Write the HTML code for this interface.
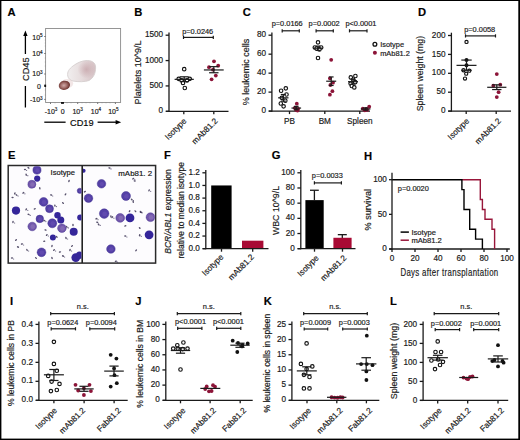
<!DOCTYPE html>
<html><head><meta charset="utf-8"><style>
html,body{margin:0;padding:0;background:#fff;}
body{width:520px;height:440px;overflow:hidden;}
svg{display:block;}
text{font-family:"Liberation Sans",sans-serif;stroke:#1a1a1a;stroke-width:0.18px;}
</style></head><body>
<svg width="520" height="440" viewBox="0 0 520 440">
<rect x="0" y="0" width="520" height="440" fill="#fff"/>
<text x="7.6" y="16.06" font-size="11.2" text-anchor="start" fill="#000" font-weight="bold" >A</text>
<rect x="45.6" y="28.5" width="75" height="74" fill="none" stroke="#8a8a8a" stroke-width="0.9"/>
<line x1="44.2" y1="36.5" x2="45.6" y2="36.5" stroke="#555" stroke-width="0.8" />
<line x1="44.2" y1="53.5" x2="45.6" y2="53.5" stroke="#555" stroke-width="0.8" />
<line x1="44.2" y1="74" x2="45.6" y2="74" stroke="#555" stroke-width="0.8" />
<line x1="44.2" y1="85.6" x2="45.6" y2="85.6" stroke="#555" stroke-width="0.8" />
<line x1="44.2" y1="99.4" x2="45.6" y2="99.4" stroke="#555" stroke-width="0.8" />
<line x1="50.5" y1="102.5" x2="50.5" y2="104" stroke="#555" stroke-width="0.8" />
<line x1="62.2" y1="102.5" x2="62.2" y2="104" stroke="#555" stroke-width="0.8" />
<line x1="77.7" y1="102.5" x2="77.7" y2="104" stroke="#555" stroke-width="0.8" />
<line x1="97.7" y1="102.5" x2="97.7" y2="104" stroke="#555" stroke-width="0.8" />
<line x1="115.4" y1="102.5" x2="115.4" y2="104" stroke="#555" stroke-width="0.8" />
<line x1="44.8" y1="40" x2="45.6" y2="40" stroke="#888" stroke-width="0.6" />
<line x1="44.8" y1="43" x2="45.6" y2="43" stroke="#888" stroke-width="0.6" />
<line x1="44.8" y1="46" x2="45.6" y2="46" stroke="#888" stroke-width="0.6" />
<line x1="44.8" y1="58" x2="45.6" y2="58" stroke="#888" stroke-width="0.6" />
<line x1="44.8" y1="62" x2="45.6" y2="62" stroke="#888" stroke-width="0.6" />
<line x1="44.8" y1="66" x2="45.6" y2="66" stroke="#888" stroke-width="0.6" />
<line x1="44.8" y1="90" x2="45.6" y2="90" stroke="#888" stroke-width="0.6" />
<line x1="44.8" y1="95" x2="45.6" y2="95" stroke="#888" stroke-width="0.6" />
<line x1="55" y1="102.5" x2="55" y2="103.3" stroke="#888" stroke-width="0.6" />
<line x1="67" y1="102.5" x2="67" y2="103.3" stroke="#888" stroke-width="0.6" />
<line x1="71" y1="102.5" x2="71" y2="103.3" stroke="#888" stroke-width="0.6" />
<line x1="82" y1="102.5" x2="82" y2="103.3" stroke="#888" stroke-width="0.6" />
<line x1="86" y1="102.5" x2="86" y2="103.3" stroke="#888" stroke-width="0.6" />
<line x1="90" y1="102.5" x2="90" y2="103.3" stroke="#888" stroke-width="0.6" />
<line x1="102" y1="102.5" x2="102" y2="103.3" stroke="#888" stroke-width="0.6" />
<line x1="106" y1="102.5" x2="106" y2="103.3" stroke="#888" stroke-width="0.6" />
<line x1="110" y1="102.5" x2="110" y2="103.3" stroke="#888" stroke-width="0.6" />
<rect x="44.3" y="84.6" width="1.8" height="2.4" fill="#111"/>
<rect x="61" y="102" width="3" height="1.8" fill="#111"/>
<text x="42.6" y="39.92" font-size="7.0" text-anchor="end" fill="#222" >10<tspan font-size="4.6" dy="-2.6">5</tspan></text>
<text x="42.6" y="56.22" font-size="7.0" text-anchor="end" fill="#222" >10<tspan font-size="4.6" dy="-2.6">4</tspan></text>
<text x="42.6" y="76.22" font-size="7.0" text-anchor="end" fill="#222" >10<tspan font-size="4.6" dy="-2.6">3</tspan></text>
<text x="41" y="88.62" font-size="7.0" text-anchor="end" fill="#222" >0</text>
<text x="42.6" y="102.42" font-size="7.0" text-anchor="end" fill="#222" >-10<tspan font-size="4.6" dy="-2.6">3</tspan></text>
<text x="51" y="113.82" font-size="7.0" text-anchor="middle" fill="#222" >-10<tspan font-size="4.6" dy="-2.6">3</tspan></text>
<text x="62.6" y="113.82" font-size="7.0" text-anchor="middle" fill="#222" >0</text>
<text x="77.6" y="113.82" font-size="7.0" text-anchor="middle" fill="#222" >10<tspan font-size="4.6" dy="-2.6">3</tspan></text>
<text x="96" y="113.82" font-size="7.0" text-anchor="middle" fill="#222" >10<tspan font-size="4.6" dy="-2.6">4</tspan></text>
<text x="113.4" y="113.82" font-size="7.0" text-anchor="middle" fill="#222" >10<tspan font-size="4.6" dy="-2.6">5</tspan></text>
<defs><linearGradient id="bg" x1="0" y1="0" x2="1" y2="0"><stop offset="0" stop-color="#f1eeee"/><stop offset="0.5" stop-color="#e6dcdd"/><stop offset="1" stop-color="#d6c2c5"/></linearGradient><radialGradient id="pg" cx="0.5" cy="0.5" r="0.5"><stop offset="0" stop-color="#c9a9ae" stop-opacity="0.85"/><stop offset="1" stop-color="#c9a9ae" stop-opacity="0"/></radialGradient><radialGradient id="rg" cx="0.45" cy="0.5" r="0.55"><stop offset="0" stop-color="#d0aaa8"/><stop offset="0.45" stop-color="#a87470"/><stop offset="0.8" stop-color="#7c4440"/><stop offset="1" stop-color="#6a3430"/></radialGradient></defs>
<path d="M67.8 76 C67 72 69 69 73 66 C77 63 81 61 86 60.6 C91 60.3 95.4 62 95.6 67 C95.8 73 93.5 78 89 80.5 C85 82 78 82 73 81 C70 80.3 68.3 78.5 67.8 76 Z" fill="url(#bg)" stroke="#d6cfcf" stroke-width="0.9"/>
<ellipse cx="86.5" cy="69.5" rx="9" ry="9" fill="url(#pg)"/>
<ellipse cx="67.2" cy="83.6" rx="6.0" ry="4.6" fill="#ead6d6" opacity="0.6"/>
<ellipse cx="64.4" cy="85.3" rx="5.7" ry="4.6" fill="url(#rg)" transform="rotate(-12 64.4 85.3)"/>
<text transform="translate(28.91,69.2) rotate(-90)" font-size="9.2" text-anchor="middle" fill="#1a1a1a" >CD45</text>
<line x1="25.4" y1="54" x2="25.4" y2="34.5" stroke="#000" stroke-width="1.3" />
<path d="M25.4 30.6 L23.2 36 L27.6 36 Z" fill="#000"/>
<line x1="25.4" y1="86" x2="25.4" y2="107.5" stroke="#000" stroke-width="1.3" />
<text x="81.8" y="125.51" font-size="9.2" text-anchor="middle" fill="#000" >CD19</text>
<line x1="44.3" y1="122.2" x2="65.6" y2="122.2" stroke="#000" stroke-width="1.3" />
<line x1="97.6" y1="122.2" x2="117" y2="122.2" stroke="#000" stroke-width="1.3" />
<path d="M121.2 122.2 L115.6 120 L115.6 124.4 Z" fill="#000"/>
<text x="134.3" y="16.16" font-size="11.2" text-anchor="start" fill="#000" font-weight="bold" >B</text>
<line x1="169" y1="32.4" x2="169" y2="111.9" stroke="#1a1a1a" stroke-width="1.3" />
<line x1="165.6" y1="35.2" x2="169" y2="35.2" stroke="#1a1a1a" stroke-width="1.3" />
<text x="163.1" y="37.35" font-size="8.2" text-anchor="end" fill="#1a1a1a" >1500</text>
<line x1="165.6" y1="60.57" x2="169" y2="60.57" stroke="#1a1a1a" stroke-width="1.3" />
<text x="163.1" y="62.72" font-size="8.2" text-anchor="end" fill="#1a1a1a" >1000</text>
<line x1="165.6" y1="85.93" x2="169" y2="85.93" stroke="#1a1a1a" stroke-width="1.3" />
<text x="163.1" y="88.09" font-size="8.2" text-anchor="end" fill="#1a1a1a" >500</text>
<line x1="165.6" y1="111.3" x2="169" y2="111.3" stroke="#1a1a1a" stroke-width="1.3" />
<text x="163.1" y="113.45" font-size="8.2" text-anchor="end" fill="#1a1a1a" >0</text>
<line x1="166" y1="111.3" x2="228.5" y2="111.3" stroke="#1a1a1a" stroke-width="1.3" />
<line x1="183.8" y1="111.3" x2="183.8" y2="114.3" stroke="#1a1a1a" stroke-width="1.3" />
<line x1="213.8" y1="111.3" x2="213.8" y2="114.3" stroke="#1a1a1a" stroke-width="1.3" />
<text transform="translate(141.14,72.5) rotate(-90)" font-size="9.0" text-anchor="middle" fill="#1a1a1a" >Platelets 10^9/L</text>
<text x="182.2" y="34.06" font-size="7.4" text-anchor="start" fill="#1a1a1a" >p=0.0246</text>
<line x1="183.5" y1="37.4" x2="213.3" y2="37.4" stroke="#1a1a1a" stroke-width="1.2" />
<line x1="183.5" y1="35.8" x2="183.5" y2="39" stroke="#1a1a1a" stroke-width="1.2" />
<line x1="213.3" y1="35.8" x2="213.3" y2="39" stroke="#1a1a1a" stroke-width="1.2" />
<circle cx="184.2" cy="69.19" r="1.75" fill="#fff" stroke="#111" stroke-width="1.15"/>
<circle cx="178.7" cy="78.83" r="1.75" fill="#fff" stroke="#111" stroke-width="1.15"/>
<circle cx="189.7" cy="78.83" r="1.75" fill="#fff" stroke="#111" stroke-width="1.15"/>
<circle cx="181.7" cy="80.35" r="1.75" fill="#fff" stroke="#111" stroke-width="1.15"/>
<circle cx="187" cy="80.35" r="1.75" fill="#fff" stroke="#111" stroke-width="1.15"/>
<circle cx="183" cy="82.89" r="1.75" fill="#fff" stroke="#111" stroke-width="1.15"/>
<circle cx="184.8" cy="87.96" r="1.75" fill="#fff" stroke="#111" stroke-width="1.15"/>
<line x1="174.6" y1="79.34" x2="193.8" y2="79.34" stroke="#1a1a1a" stroke-width="1.2" />
<line x1="184.2" y1="76.8" x2="184.2" y2="79.34" stroke="#1a1a1a" stroke-width="1.2" />
<line x1="179.7" y1="76.8" x2="188.7" y2="76.8" stroke="#1a1a1a" stroke-width="1.2" />
<line x1="184.2" y1="79.34" x2="184.2" y2="81.62" stroke="#1a1a1a" stroke-width="1.2" />
<line x1="179.7" y1="81.62" x2="188.7" y2="81.62" stroke="#1a1a1a" stroke-width="1.2" />
<circle cx="214" cy="61.33" r="1.9" fill="#8c1438"/>
<circle cx="218.2" cy="65.64" r="1.9" fill="#8c1438"/>
<circle cx="209" cy="67.16" r="1.9" fill="#8c1438"/>
<circle cx="215.8" cy="75.53" r="1.9" fill="#8c1438"/>
<circle cx="211.6" cy="79.34" r="1.9" fill="#8c1438"/>
<circle cx="213" cy="69.7" r="1.9" fill="#8c1438"/>
<line x1="203.9" y1="69.95" x2="223.7" y2="69.95" stroke="#1a1a1a" stroke-width="1.2" />
<line x1="213.8" y1="66.65" x2="213.8" y2="69.95" stroke="#1a1a1a" stroke-width="1.2" />
<line x1="209.1" y1="66.65" x2="218.5" y2="66.65" stroke="#1a1a1a" stroke-width="1.2" />
<line x1="213.8" y1="69.95" x2="213.8" y2="72.74" stroke="#1a1a1a" stroke-width="1.2" />
<line x1="209.1" y1="72.74" x2="218.5" y2="72.74" stroke="#1a1a1a" stroke-width="1.2" />
<text transform="translate(187,121.5) rotate(-45)" font-size="8.2" text-anchor="end" fill="#1a1a1a">Isotype</text>
<text transform="translate(218.3,121.5) rotate(-45)" font-size="8.2" text-anchor="end" fill="#1a1a1a">mAb81.2</text>
<text x="242.8" y="16.16" font-size="11.2" text-anchor="start" fill="#000" font-weight="bold" >C</text>
<line x1="271.9" y1="32.4" x2="271.9" y2="111.7" stroke="#1a1a1a" stroke-width="1.3" />
<line x1="268.5" y1="35.2" x2="271.9" y2="35.2" stroke="#1a1a1a" stroke-width="1.3" />
<text x="266" y="37.35" font-size="8.2" text-anchor="end" fill="#1a1a1a" >80</text>
<line x1="268.5" y1="54.17" x2="271.9" y2="54.17" stroke="#1a1a1a" stroke-width="1.3" />
<text x="266" y="56.33" font-size="8.2" text-anchor="end" fill="#1a1a1a" >60</text>
<line x1="268.5" y1="73.15" x2="271.9" y2="73.15" stroke="#1a1a1a" stroke-width="1.3" />
<text x="266" y="75.3" font-size="8.2" text-anchor="end" fill="#1a1a1a" >40</text>
<line x1="268.5" y1="92.12" x2="271.9" y2="92.12" stroke="#1a1a1a" stroke-width="1.3" />
<text x="266" y="94.28" font-size="8.2" text-anchor="end" fill="#1a1a1a" >20</text>
<line x1="268.5" y1="111.1" x2="271.9" y2="111.1" stroke="#1a1a1a" stroke-width="1.3" />
<text x="266" y="113.25" font-size="8.2" text-anchor="end" fill="#1a1a1a" >0</text>
<line x1="268.9" y1="111.1" x2="370" y2="111.1" stroke="#1a1a1a" stroke-width="1.3" />
<line x1="289.5" y1="111.1" x2="289.5" y2="114.1" stroke="#1a1a1a" stroke-width="1.3" />
<line x1="324.8" y1="111.1" x2="324.8" y2="114.1" stroke="#1a1a1a" stroke-width="1.3" />
<line x1="359.8" y1="111.1" x2="359.8" y2="114.1" stroke="#1a1a1a" stroke-width="1.3" />
<text transform="translate(248.84,72) rotate(-90)" font-size="9.0" text-anchor="middle" fill="#1a1a1a" >% leukemic cells</text>
<text x="289.5" y="123.65" font-size="8.2" text-anchor="middle" fill="#1a1a1a" >PB</text>
<text x="324.8" y="123.65" font-size="8.2" text-anchor="middle" fill="#1a1a1a" >BM</text>
<text x="359.8" y="123.65" font-size="8.2" text-anchor="middle" fill="#1a1a1a" >Spleen</text>
<text x="271.7" y="26.36" font-size="7.4" text-anchor="start" fill="#1a1a1a" >p=0.0166</text>
<line x1="282.2" y1="30.8" x2="299.3" y2="30.8" stroke="#1a1a1a" stroke-width="1.2" />
<line x1="282.2" y1="29.2" x2="282.2" y2="32.4" stroke="#1a1a1a" stroke-width="1.2" />
<line x1="299.3" y1="29.2" x2="299.3" y2="32.4" stroke="#1a1a1a" stroke-width="1.2" />
<text x="308.6" y="26.36" font-size="7.4" text-anchor="start" fill="#1a1a1a" >p=0.0002</text>
<line x1="316.1" y1="30.8" x2="333.3" y2="30.8" stroke="#1a1a1a" stroke-width="1.2" />
<line x1="316.1" y1="29.2" x2="316.1" y2="32.4" stroke="#1a1a1a" stroke-width="1.2" />
<line x1="333.3" y1="29.2" x2="333.3" y2="32.4" stroke="#1a1a1a" stroke-width="1.2" />
<text x="345.4" y="26.36" font-size="7.4" text-anchor="start" fill="#1a1a1a" >p&lt;0.0001</text>
<line x1="349.5" y1="30.8" x2="367" y2="30.8" stroke="#1a1a1a" stroke-width="1.2" />
<line x1="349.5" y1="29.2" x2="349.5" y2="32.4" stroke="#1a1a1a" stroke-width="1.2" />
<line x1="367" y1="29.2" x2="367" y2="32.4" stroke="#1a1a1a" stroke-width="1.2" />
<circle cx="285.8" cy="88.33" r="1.75" fill="#fff" stroke="#111" stroke-width="1.15"/>
<circle cx="281.1" cy="90.7" r="1.75" fill="#fff" stroke="#111" stroke-width="1.15"/>
<circle cx="286.5" cy="94.5" r="1.75" fill="#fff" stroke="#111" stroke-width="1.15"/>
<circle cx="281.8" cy="97.82" r="1.75" fill="#fff" stroke="#111" stroke-width="1.15"/>
<circle cx="285.3" cy="100.66" r="1.75" fill="#fff" stroke="#111" stroke-width="1.15"/>
<circle cx="280.8" cy="103.51" r="1.75" fill="#fff" stroke="#111" stroke-width="1.15"/>
<circle cx="283.6" cy="106.36" r="1.75" fill="#fff" stroke="#111" stroke-width="1.15"/>
<line x1="278.1" y1="97.82" x2="288.5" y2="97.82" stroke="#1a1a1a" stroke-width="1.2" />
<line x1="283.3" y1="94.5" x2="283.3" y2="97.82" stroke="#1a1a1a" stroke-width="1.2" />
<line x1="280.8" y1="94.5" x2="285.8" y2="94.5" stroke="#1a1a1a" stroke-width="1.2" />
<line x1="283.3" y1="97.82" x2="283.3" y2="101.14" stroke="#1a1a1a" stroke-width="1.2" />
<line x1="280.8" y1="101.14" x2="285.8" y2="101.14" stroke="#1a1a1a" stroke-width="1.2" />
<circle cx="296.8" cy="103.7" r="1.9" fill="#8c1438"/>
<circle cx="294.8" cy="107.97" r="1.9" fill="#8c1438"/>
<circle cx="298.1" cy="109.01" r="1.9" fill="#8c1438"/>
<circle cx="296.1" cy="109.96" r="1.9" fill="#8c1438"/>
<circle cx="297.5" cy="110.53" r="1.9" fill="#8c1438"/>
<line x1="291.5" y1="108.06" x2="301.1" y2="108.06" stroke="#1a1a1a" stroke-width="1.2" />
<line x1="296.3" y1="106.36" x2="296.3" y2="108.06" stroke="#1a1a1a" stroke-width="1.2" />
<line x1="294" y1="106.36" x2="298.6" y2="106.36" stroke="#1a1a1a" stroke-width="1.2" />
<line x1="296.3" y1="108.06" x2="296.3" y2="109.77" stroke="#1a1a1a" stroke-width="1.2" />
<line x1="294" y1="109.77" x2="298.6" y2="109.77" stroke="#1a1a1a" stroke-width="1.2" />
<circle cx="318" cy="42.32" r="1.75" fill="#fff" stroke="#111" stroke-width="1.15"/>
<circle cx="314.8" cy="47.53" r="1.75" fill="#fff" stroke="#111" stroke-width="1.15"/>
<circle cx="321.2" cy="47.53" r="1.75" fill="#fff" stroke="#111" stroke-width="1.15"/>
<circle cx="316.6" cy="48.48" r="1.75" fill="#fff" stroke="#111" stroke-width="1.15"/>
<circle cx="319.4" cy="49.43" r="1.75" fill="#fff" stroke="#111" stroke-width="1.15"/>
<circle cx="318" cy="57.97" r="1.75" fill="#fff" stroke="#111" stroke-width="1.15"/>
<line x1="313" y1="48.2" x2="323" y2="48.2" stroke="#1a1a1a" stroke-width="1.2" />
<line x1="318" y1="46.11" x2="318" y2="48.2" stroke="#1a1a1a" stroke-width="1.2" />
<line x1="315.6" y1="46.11" x2="320.4" y2="46.11" stroke="#1a1a1a" stroke-width="1.2" />
<line x1="318" y1="48.2" x2="318" y2="50.38" stroke="#1a1a1a" stroke-width="1.2" />
<line x1="315.6" y1="50.38" x2="320.4" y2="50.38" stroke="#1a1a1a" stroke-width="1.2" />
<circle cx="331.2" cy="59.87" r="1.9" fill="#8c1438"/>
<circle cx="329.9" cy="78.37" r="1.9" fill="#8c1438"/>
<circle cx="333" cy="82.64" r="1.9" fill="#8c1438"/>
<circle cx="330.4" cy="85.01" r="1.9" fill="#8c1438"/>
<circle cx="332.4" cy="91.18" r="1.9" fill="#8c1438"/>
<circle cx="329.9" cy="94.69" r="1.9" fill="#8c1438"/>
<line x1="326.2" y1="81.21" x2="336.2" y2="81.21" stroke="#1a1a1a" stroke-width="1.2" />
<line x1="331.2" y1="76.94" x2="331.2" y2="81.21" stroke="#1a1a1a" stroke-width="1.2" />
<line x1="328.8" y1="76.94" x2="333.6" y2="76.94" stroke="#1a1a1a" stroke-width="1.2" />
<line x1="331.2" y1="81.21" x2="331.2" y2="85.48" stroke="#1a1a1a" stroke-width="1.2" />
<line x1="328.8" y1="85.48" x2="333.6" y2="85.48" stroke="#1a1a1a" stroke-width="1.2" />
<circle cx="350.8" cy="77.42" r="1.75" fill="#fff" stroke="#111" stroke-width="1.15"/>
<circle cx="355.4" cy="76" r="1.75" fill="#fff" stroke="#111" stroke-width="1.15"/>
<circle cx="353.2" cy="79.79" r="1.75" fill="#fff" stroke="#111" stroke-width="1.15"/>
<circle cx="350.6" cy="83.59" r="1.75" fill="#fff" stroke="#111" stroke-width="1.15"/>
<circle cx="355.2" cy="82.16" r="1.75" fill="#fff" stroke="#111" stroke-width="1.15"/>
<circle cx="351.8" cy="85.96" r="1.75" fill="#fff" stroke="#111" stroke-width="1.15"/>
<circle cx="354.3" cy="87.38" r="1.75" fill="#fff" stroke="#111" stroke-width="1.15"/>
<line x1="348" y1="81.69" x2="358" y2="81.69" stroke="#1a1a1a" stroke-width="1.2" />
<line x1="353" y1="79.32" x2="353" y2="81.69" stroke="#1a1a1a" stroke-width="1.2" />
<line x1="350.6" y1="79.32" x2="355.4" y2="79.32" stroke="#1a1a1a" stroke-width="1.2" />
<line x1="353" y1="81.69" x2="353" y2="84.06" stroke="#1a1a1a" stroke-width="1.2" />
<line x1="350.6" y1="84.06" x2="355.4" y2="84.06" stroke="#1a1a1a" stroke-width="1.2" />
<circle cx="362.8" cy="108.63" r="1.9" fill="#8c1438"/>
<circle cx="367.1" cy="109.96" r="1.9" fill="#8c1438"/>
<circle cx="369.2" cy="106.74" r="1.9" fill="#8c1438"/>
<circle cx="364.8" cy="110.34" r="1.9" fill="#8c1438"/>
<circle cx="366.4" cy="109.01" r="1.9" fill="#8c1438"/>
<line x1="360.8" y1="109.01" x2="370.4" y2="109.01" stroke="#1a1a1a" stroke-width="1.2" />
<line x1="365.6" y1="107.87" x2="365.6" y2="109.01" stroke="#1a1a1a" stroke-width="1.2" />
<line x1="363.3" y1="107.87" x2="367.9" y2="107.87" stroke="#1a1a1a" stroke-width="1.2" />
<line x1="365.6" y1="109.01" x2="365.6" y2="110.15" stroke="#1a1a1a" stroke-width="1.2" />
<line x1="363.3" y1="110.15" x2="367.9" y2="110.15" stroke="#1a1a1a" stroke-width="1.2" />
<circle cx="374.9" cy="44.2" r="1.9" fill="#fff" stroke="#111" stroke-width="1.3"/>
<text x="380.2" y="46.86" font-size="7.4" text-anchor="start" fill="#1a1a1a" >Isotype</text>
<circle cx="374.9" cy="52.8" r="2" fill="#8c1438"/>
<text x="380.2" y="55.56" font-size="7.4" text-anchor="start" fill="#1a1a1a" >mAb81.2</text>
<text x="418" y="16.16" font-size="11.2" text-anchor="start" fill="#000" font-weight="bold" >D</text>
<line x1="451.4" y1="32.7" x2="451.4" y2="111.7" stroke="#1a1a1a" stroke-width="1.3" />
<line x1="448" y1="35.5" x2="451.4" y2="35.5" stroke="#1a1a1a" stroke-width="1.3" />
<text x="445.5" y="37.65" font-size="8.2" text-anchor="end" fill="#1a1a1a" >200</text>
<line x1="448" y1="54.4" x2="451.4" y2="54.4" stroke="#1a1a1a" stroke-width="1.3" />
<text x="445.5" y="56.55" font-size="8.2" text-anchor="end" fill="#1a1a1a" >150</text>
<line x1="448" y1="73.3" x2="451.4" y2="73.3" stroke="#1a1a1a" stroke-width="1.3" />
<text x="445.5" y="75.45" font-size="8.2" text-anchor="end" fill="#1a1a1a" >100</text>
<line x1="448" y1="92.2" x2="451.4" y2="92.2" stroke="#1a1a1a" stroke-width="1.3" />
<text x="445.5" y="94.35" font-size="8.2" text-anchor="end" fill="#1a1a1a" >50</text>
<line x1="448" y1="111.1" x2="451.4" y2="111.1" stroke="#1a1a1a" stroke-width="1.3" />
<text x="445.5" y="113.25" font-size="8.2" text-anchor="end" fill="#1a1a1a" >0</text>
<line x1="448.4" y1="111.1" x2="511" y2="111.1" stroke="#1a1a1a" stroke-width="1.3" />
<line x1="466.2" y1="111.1" x2="466.2" y2="114.1" stroke="#1a1a1a" stroke-width="1.3" />
<line x1="496.2" y1="111.1" x2="496.2" y2="114.1" stroke="#1a1a1a" stroke-width="1.3" />
<text transform="translate(423.05,73.6) rotate(-90)" font-size="8.75" text-anchor="middle" fill="#1a1a1a" >Spleen weight (mg)</text>
<text x="464.2" y="32.16" font-size="7.4" text-anchor="start" fill="#1a1a1a" >p=0.0058</text>
<line x1="465.5" y1="35.9" x2="495.5" y2="35.9" stroke="#1a1a1a" stroke-width="1.2" />
<line x1="465.5" y1="34.3" x2="465.5" y2="37.5" stroke="#1a1a1a" stroke-width="1.2" />
<line x1="495.5" y1="34.3" x2="495.5" y2="37.5" stroke="#1a1a1a" stroke-width="1.2" />
<circle cx="466.5" cy="41.93" r="1.6" fill="#fff" stroke="#111" stroke-width="1.15"/>
<circle cx="463.5" cy="70.28" r="1.6" fill="#fff" stroke="#111" stroke-width="1.15"/>
<circle cx="469.3" cy="70.65" r="1.6" fill="#fff" stroke="#111" stroke-width="1.15"/>
<circle cx="466.2" cy="73.68" r="1.6" fill="#fff" stroke="#111" stroke-width="1.15"/>
<circle cx="465" cy="78.59" r="1.6" fill="#fff" stroke="#111" stroke-width="1.15"/>
<circle cx="466.5" cy="60.07" r="2" fill="#111"/>
<circle cx="466.5" cy="65.36" r="2" fill="#111"/>
<line x1="456.5" y1="65.36" x2="476.5" y2="65.36" stroke="#1a1a1a" stroke-width="1.2" />
<line x1="466.5" y1="60.07" x2="466.5" y2="65.36" stroke="#1a1a1a" stroke-width="1.2" />
<line x1="461.3" y1="60.07" x2="471.7" y2="60.07" stroke="#1a1a1a" stroke-width="1.2" />
<line x1="466.5" y1="65.36" x2="466.5" y2="70.28" stroke="#1a1a1a" stroke-width="1.2" />
<line x1="461.3" y1="70.28" x2="471.7" y2="70.28" stroke="#1a1a1a" stroke-width="1.2" />
<circle cx="496.8" cy="74.06" r="1.9" fill="#8c1438"/>
<circle cx="493.3" cy="85.77" r="1.9" fill="#8c1438"/>
<circle cx="500.3" cy="84.64" r="1.9" fill="#8c1438"/>
<circle cx="498.6" cy="92.2" r="1.9" fill="#8c1438"/>
<circle cx="496.8" cy="97.11" r="1.9" fill="#8c1438"/>
<line x1="487.2" y1="87.29" x2="506.4" y2="87.29" stroke="#1a1a1a" stroke-width="1.2" />
<line x1="496.8" y1="84.83" x2="496.8" y2="87.29" stroke="#1a1a1a" stroke-width="1.2" />
<line x1="492.1" y1="84.83" x2="501.5" y2="84.83" stroke="#1a1a1a" stroke-width="1.2" />
<line x1="496.8" y1="87.29" x2="496.8" y2="89.55" stroke="#1a1a1a" stroke-width="1.2" />
<line x1="492.1" y1="89.55" x2="501.5" y2="89.55" stroke="#1a1a1a" stroke-width="1.2" />
<text transform="translate(469.7,121.5) rotate(-45)" font-size="8.2" text-anchor="end" fill="#1a1a1a">Isotype</text>
<text transform="translate(501.5,121.5) rotate(-45)" font-size="8.2" text-anchor="end" fill="#1a1a1a">mAb81.2</text>
<text x="8.1" y="158.76" font-size="11.2" text-anchor="start" fill="#000" font-weight="bold" >E</text>
<rect x="8.2" y="165.5" width="147.4" height="97.6" fill="#fdfcfe" stroke="#2a2a2a" stroke-width="1.5"/>
<line x1="82.2" y1="165.5" x2="82.2" y2="263.1" stroke="#222" stroke-width="1.6"/>
<clipPath id="cl"><rect x="9" y="166.3" width="72.4" height="96"/></clipPath>
<clipPath id="cr"><rect x="83" y="166.3" width="71.8" height="96"/></clipPath>
<g clip-path="url(#cl)">
<circle cx="37" cy="170.1" r="4.1" fill="#5440a6" stroke="#3a2a88" stroke-width="0.6" stroke-opacity="0.7"/>
<circle cx="37.4" cy="170.4" r="2.05" fill="#6a52b6" opacity="0.6"/>
<circle cx="37.2" cy="178.6" r="3.1" fill="#35269a"/>
<circle cx="31.9" cy="184.3" r="4" fill="#7257ab" stroke="#3a2a88" stroke-width="0.6" stroke-opacity="0.7"/>
<circle cx="32.4" cy="184.5" r="2.2" fill="#8b74b8" opacity="0.7"/>
<circle cx="16" cy="210.6" r="4.1" fill="#35269a"/>
<circle cx="43.6" cy="201.9" r="4.4" fill="#5440a6" stroke="#3a2a88" stroke-width="0.6" stroke-opacity="0.7"/>
<circle cx="44" cy="202.2" r="2.2" fill="#6a52b6" opacity="0.6"/>
<circle cx="49.5" cy="208.7" r="4" fill="#5440a6" stroke="#3a2a88" stroke-width="0.6" stroke-opacity="0.7"/>
<circle cx="49.9" cy="209" r="2" fill="#6a52b6" opacity="0.6"/>
<circle cx="39.8" cy="218.9" r="3.8" fill="#5440a6" stroke="#3a2a88" stroke-width="0.6" stroke-opacity="0.7"/>
<circle cx="40.2" cy="219.2" r="1.9" fill="#6a52b6" opacity="0.6"/>
<circle cx="57.5" cy="215.2" r="3.2" fill="#35269a"/>
<circle cx="60.8" cy="220.1" r="3.5" fill="#35269a"/>
<circle cx="52.3" cy="223.3" r="4.5" fill="#5440a6" stroke="#3a2a88" stroke-width="0.6" stroke-opacity="0.7"/>
<circle cx="52.7" cy="223.6" r="2.25" fill="#6a52b6" opacity="0.6"/>
<circle cx="61.9" cy="228.2" r="4.3" fill="#7257ab" stroke="#3a2a88" stroke-width="0.6" stroke-opacity="0.7"/>
<circle cx="62.4" cy="228.4" r="2.37" fill="#8b74b8" opacity="0.7"/>
<circle cx="32.2" cy="226.5" r="4.3" fill="#7257ab" stroke="#3a2a88" stroke-width="0.6" stroke-opacity="0.7"/>
<circle cx="32.7" cy="226.7" r="2.37" fill="#8b74b8" opacity="0.7"/>
<circle cx="73.7" cy="231.8" r="4" fill="#35269a"/>
<circle cx="52.9" cy="237.5" r="3" fill="#35269a"/>
<circle cx="41.5" cy="252.3" r="4.4" fill="#5440a6" stroke="#3a2a88" stroke-width="0.6" stroke-opacity="0.7"/>
<circle cx="41.9" cy="252.6" r="2.2" fill="#6a52b6" opacity="0.6"/>
<circle cx="75.8" cy="257.6" r="4.4" fill="#35269a"/>
<circle cx="79.6" cy="255.2" r="3.6" fill="#35269a"/>
<circle cx="80.2" cy="217.4" r="3" fill="#35269a"/>
<circle cx="79.8" cy="190.8" r="2.6" fill="#5440a6" stroke="#3a2a88" stroke-width="0.6" stroke-opacity="0.7"/>
<circle cx="80.2" cy="191.1" r="1.3" fill="#6a52b6" opacity="0.6"/>
</g>
<g clip-path="url(#cr)">
<circle cx="101.5" cy="183.8" r="4.3" fill="#5440a6" stroke="#3a2a88" stroke-width="0.6" stroke-opacity="0.7"/>
<circle cx="101.9" cy="184.1" r="2.15" fill="#6a52b6" opacity="0.6"/>
<circle cx="88.5" cy="198.2" r="4.3" fill="#5440a6" stroke="#3a2a88" stroke-width="0.6" stroke-opacity="0.7"/>
<circle cx="88.9" cy="198.5" r="2.15" fill="#6a52b6" opacity="0.6"/>
<circle cx="126" cy="196" r="4.5" fill="#5440a6" stroke="#3a2a88" stroke-width="0.6" stroke-opacity="0.7"/>
<circle cx="126.4" cy="196.3" r="2.25" fill="#6a52b6" opacity="0.6"/>
<circle cx="104.2" cy="213.6" r="4.8" fill="#5440a6" stroke="#3a2a88" stroke-width="0.6" stroke-opacity="0.7"/>
<circle cx="104.6" cy="213.9" r="2.4" fill="#6a52b6" opacity="0.6"/>
<circle cx="120.2" cy="217.9" r="4.4" fill="#7257ab" stroke="#3a2a88" stroke-width="0.6" stroke-opacity="0.7"/>
<circle cx="120.7" cy="218.1" r="2.42" fill="#8b74b8" opacity="0.7"/>
<circle cx="130" cy="217.9" r="4.4" fill="#35269a"/>
<circle cx="150.5" cy="217.2" r="4.4" fill="#7257ab" stroke="#3a2a88" stroke-width="0.6" stroke-opacity="0.7"/>
<circle cx="151" cy="217.4" r="2.42" fill="#8b74b8" opacity="0.7"/>
<circle cx="149.1" cy="234.8" r="4.4" fill="#35269a"/>
<circle cx="110.9" cy="249" r="4.3" fill="#5440a6" stroke="#3a2a88" stroke-width="0.6" stroke-opacity="0.7"/>
<circle cx="111.3" cy="249.3" r="2.15" fill="#6a52b6" opacity="0.6"/>
<circle cx="83.6" cy="170.8" r="2" fill="#35269a"/>
</g>
<ellipse cx="25" cy="169.5" rx="1.2" ry="0.75" fill="#3a3252" opacity="0.85" transform="rotate(0 25 169.5)"/>
<circle cx="26.6" cy="170.5" r="0.6" fill="#443c60" opacity="0.8"/>
<ellipse cx="28.5" cy="167.8" rx="1.2" ry="0.75" fill="#3a3252" opacity="0.85" transform="rotate(37 28.5 167.8)"/>
<ellipse cx="26.2" cy="174.7" rx="1.2" ry="0.75" fill="#3a3252" opacity="0.85" transform="rotate(74 26.2 174.7)"/>
<circle cx="27.8" cy="175.7" r="0.6" fill="#443c60" opacity="0.8"/>
<ellipse cx="14.8" cy="193.4" rx="1.2" ry="0.75" fill="#3a3252" opacity="0.85" transform="rotate(111 14.8 193.4)"/>
<ellipse cx="23.3" cy="192.8" rx="1.2" ry="0.75" fill="#3a3252" opacity="0.85" transform="rotate(148 23.3 192.8)"/>
<circle cx="24.9" cy="193.8" r="0.6" fill="#443c60" opacity="0.8"/>
<ellipse cx="12.5" cy="197.4" rx="1.2" ry="0.75" fill="#3a3252" opacity="0.85" transform="rotate(5 12.5 197.4)"/>
<ellipse cx="16.5" cy="195" rx="1.2" ry="0.75" fill="#3a3252" opacity="0.85" transform="rotate(42 16.5 195)"/>
<circle cx="18.1" cy="196" r="0.6" fill="#443c60" opacity="0.8"/>
<ellipse cx="39.8" cy="188.3" rx="1.2" ry="0.75" fill="#3a3252" opacity="0.85" transform="rotate(79 39.8 188.3)"/>
<ellipse cx="26.2" cy="209.3" rx="1.2" ry="0.75" fill="#3a3252" opacity="0.85" transform="rotate(116 26.2 209.3)"/>
<circle cx="27.8" cy="210.3" r="0.6" fill="#443c60" opacity="0.8"/>
<ellipse cx="34.7" cy="208.8" rx="1.2" ry="0.75" fill="#3a3252" opacity="0.85" transform="rotate(153 34.7 208.8)"/>
<ellipse cx="51.1" cy="195" rx="1.2" ry="0.75" fill="#3a3252" opacity="0.85" transform="rotate(10 51.1 195)"/>
<circle cx="52.7" cy="196" r="0.6" fill="#443c60" opacity="0.8"/>
<ellipse cx="63" cy="203" rx="1.2" ry="0.75" fill="#3a3252" opacity="0.85" transform="rotate(47 63 203)"/>
<ellipse cx="54.9" cy="205.6" rx="1.2" ry="0.75" fill="#3a3252" opacity="0.85" transform="rotate(84 54.9 205.6)"/>
<circle cx="56.5" cy="206.6" r="0.6" fill="#443c60" opacity="0.8"/>
<ellipse cx="65.5" cy="194.4" rx="1.2" ry="0.75" fill="#3a3252" opacity="0.85" transform="rotate(121 65.5 194.4)"/>
<ellipse cx="44.25" cy="220.6" rx="1.2" ry="0.75" fill="#3a3252" opacity="0.85" transform="rotate(158 44.25 220.6)"/>
<circle cx="45.85" cy="221.6" r="0.6" fill="#443c60" opacity="0.8"/>
<ellipse cx="45.5" cy="230" rx="1.2" ry="0.75" fill="#3a3252" opacity="0.85" transform="rotate(15 45.5 230)"/>
<ellipse cx="66.75" cy="226.9" rx="1.2" ry="0.75" fill="#3a3252" opacity="0.85" transform="rotate(52 66.75 226.9)"/>
<circle cx="68.35" cy="227.9" r="0.6" fill="#443c60" opacity="0.8"/>
<ellipse cx="73" cy="225" rx="1.2" ry="0.75" fill="#3a3252" opacity="0.85" transform="rotate(89 73 225)"/>
<ellipse cx="46.75" cy="235" rx="1.2" ry="0.75" fill="#3a3252" opacity="0.85" transform="rotate(126 46.75 235)"/>
<circle cx="48.35" cy="236" r="0.6" fill="#443c60" opacity="0.8"/>
<ellipse cx="44.25" cy="241.25" rx="1.2" ry="0.75" fill="#3a3252" opacity="0.85" transform="rotate(163 44.25 241.25)"/>
<ellipse cx="28.6" cy="214.4" rx="1.2" ry="0.75" fill="#3a3252" opacity="0.85" transform="rotate(20 28.6 214.4)"/>
<circle cx="30.2" cy="215.4" r="0.6" fill="#443c60" opacity="0.8"/>
<ellipse cx="56.75" cy="236.9" rx="1.2" ry="0.75" fill="#3a3252" opacity="0.85" transform="rotate(57 56.75 236.9)"/>
<ellipse cx="13" cy="222" rx="1.2" ry="0.75" fill="#3a3252" opacity="0.85" transform="rotate(94 13 222)"/>
<circle cx="14.6" cy="223" r="0.6" fill="#443c60" opacity="0.8"/>
<ellipse cx="16" cy="240" rx="1.2" ry="0.75" fill="#3a3252" opacity="0.85" transform="rotate(131 16 240)"/>
<ellipse cx="22" cy="244" rx="1.2" ry="0.75" fill="#3a3252" opacity="0.85" transform="rotate(168 22 244)"/>
<circle cx="23.6" cy="245" r="0.6" fill="#443c60" opacity="0.8"/>
<ellipse cx="18" cy="247" rx="1.2" ry="0.75" fill="#3a3252" opacity="0.85" transform="rotate(25 18 247)"/>
<ellipse cx="27" cy="250" rx="1.2" ry="0.75" fill="#3a3252" opacity="0.85" transform="rotate(62 27 250)"/>
<circle cx="28.6" cy="251" r="0.6" fill="#443c60" opacity="0.8"/>
<ellipse cx="52" cy="246" rx="1.2" ry="0.75" fill="#3a3252" opacity="0.85" transform="rotate(99 52 246)"/>
<ellipse cx="54" cy="250" rx="1.2" ry="0.75" fill="#3a3252" opacity="0.85" transform="rotate(136 54 250)"/>
<circle cx="55.6" cy="251" r="0.6" fill="#443c60" opacity="0.8"/>
<ellipse cx="60" cy="252" rx="1.2" ry="0.75" fill="#3a3252" opacity="0.85" transform="rotate(173 60 252)"/>
<ellipse cx="63" cy="256" rx="1.2" ry="0.75" fill="#3a3252" opacity="0.85" transform="rotate(30 63 256)"/>
<circle cx="64.6" cy="257" r="0.6" fill="#443c60" opacity="0.8"/>
<ellipse cx="52" cy="258" rx="1.2" ry="0.75" fill="#3a3252" opacity="0.85" transform="rotate(67 52 258)"/>
<ellipse cx="70" cy="250" rx="1.2" ry="0.75" fill="#3a3252" opacity="0.85" transform="rotate(104 70 250)"/>
<circle cx="71.6" cy="251" r="0.6" fill="#443c60" opacity="0.8"/>
<ellipse cx="72" cy="246" rx="1.2" ry="0.75" fill="#3a3252" opacity="0.85" transform="rotate(141 72 246)"/>
<ellipse cx="12" cy="258" rx="1.2" ry="0.75" fill="#3a3252" opacity="0.85" transform="rotate(178 12 258)"/>
<circle cx="13.6" cy="259" r="0.6" fill="#443c60" opacity="0.8"/>
<ellipse cx="36" cy="258" rx="1.2" ry="0.75" fill="#3a3252" opacity="0.85" transform="rotate(35 36 258)"/>
<ellipse cx="66" cy="238" rx="1.2" ry="0.75" fill="#3a3252" opacity="0.85" transform="rotate(72 66 238)"/>
<circle cx="67.6" cy="239" r="0.6" fill="#443c60" opacity="0.8"/>
<ellipse cx="69" cy="181" rx="1.2" ry="0.75" fill="#3a3252" opacity="0.85" transform="rotate(109 69 181)"/>
<ellipse cx="133.2" cy="178.7" rx="1.2" ry="0.75" fill="#3a3252" opacity="0.85" transform="rotate(146 133.2 178.7)"/>
<circle cx="134.8" cy="179.7" r="0.6" fill="#443c60" opacity="0.8"/>
<ellipse cx="134.7" cy="180.9" rx="1.2" ry="0.75" fill="#3a3252" opacity="0.85" transform="rotate(3 134.7 180.9)"/>
<ellipse cx="131.8" cy="199.6" rx="1.2" ry="0.75" fill="#3a3252" opacity="0.85" transform="rotate(40 131.8 199.6)"/>
<circle cx="133.4" cy="200.6" r="0.6" fill="#443c60" opacity="0.8"/>
<ellipse cx="133.2" cy="201.8" rx="1.2" ry="0.75" fill="#3a3252" opacity="0.85" transform="rotate(77 133.2 201.8)"/>
<ellipse cx="149.1" cy="190.3" rx="1.2" ry="0.75" fill="#3a3252" opacity="0.85" transform="rotate(114 149.1 190.3)"/>
<circle cx="150.7" cy="191.3" r="0.6" fill="#443c60" opacity="0.8"/>
<ellipse cx="84.9" cy="191.7" rx="1.2" ry="0.75" fill="#3a3252" opacity="0.85" transform="rotate(151 84.9 191.7)"/>
<ellipse cx="109.4" cy="167.9" rx="1.2" ry="0.75" fill="#3a3252" opacity="0.85" transform="rotate(8 109.4 167.9)"/>
<circle cx="111" cy="168.9" r="0.6" fill="#443c60" opacity="0.8"/>
<ellipse cx="135.4" cy="211.2" rx="1.2" ry="0.75" fill="#3a3252" opacity="0.85" transform="rotate(45 135.4 211.2)"/>
<ellipse cx="140.4" cy="211.9" rx="1.2" ry="0.75" fill="#3a3252" opacity="0.85" transform="rotate(82 140.4 211.9)"/>
<circle cx="142" cy="212.9" r="0.6" fill="#443c60" opacity="0.8"/>
<ellipse cx="129.6" cy="211.2" rx="1.2" ry="0.75" fill="#3a3252" opacity="0.85" transform="rotate(119 129.6 211.2)"/>
<ellipse cx="96.4" cy="218.7" rx="1.2" ry="0.75" fill="#3a3252" opacity="0.85" transform="rotate(156 96.4 218.7)"/>
<circle cx="98" cy="219.7" r="0.6" fill="#443c60" opacity="0.8"/>
<ellipse cx="97.2" cy="222.3" rx="1.2" ry="0.75" fill="#3a3252" opacity="0.85" transform="rotate(13 97.2 222.3)"/>
<ellipse cx="98.6" cy="224.4" rx="1.2" ry="0.75" fill="#3a3252" opacity="0.85" transform="rotate(50 98.6 224.4)"/>
<circle cx="100.2" cy="225.4" r="0.6" fill="#443c60" opacity="0.8"/>
<ellipse cx="110.9" cy="216.5" rx="1.2" ry="0.75" fill="#3a3252" opacity="0.85" transform="rotate(87 110.9 216.5)"/>
<ellipse cx="112.3" cy="217.2" rx="1.2" ry="0.75" fill="#3a3252" opacity="0.85" transform="rotate(124 112.3 217.2)"/>
<circle cx="113.9" cy="218.2" r="0.6" fill="#443c60" opacity="0.8"/>
<ellipse cx="125.3" cy="225.9" rx="1.2" ry="0.75" fill="#3a3252" opacity="0.85" transform="rotate(161 125.3 225.9)"/>
<ellipse cx="125.3" cy="236" rx="1.2" ry="0.75" fill="#3a3252" opacity="0.85" transform="rotate(18 125.3 236)"/>
<circle cx="126.9" cy="237" r="0.6" fill="#443c60" opacity="0.8"/>
<ellipse cx="139.7" cy="228" rx="1.2" ry="0.75" fill="#3a3252" opacity="0.85" transform="rotate(55 139.7 228)"/>
<ellipse cx="139.7" cy="235.3" rx="1.2" ry="0.75" fill="#3a3252" opacity="0.85" transform="rotate(92 139.7 235.3)"/>
<circle cx="141.3" cy="236.3" r="0.6" fill="#443c60" opacity="0.8"/>
<ellipse cx="136.1" cy="250.4" rx="1.2" ry="0.75" fill="#3a3252" opacity="0.85" transform="rotate(129 136.1 250.4)"/>
<ellipse cx="115.9" cy="261.2" rx="1.2" ry="0.75" fill="#3a3252" opacity="0.85" transform="rotate(166 115.9 261.2)"/>
<circle cx="117.5" cy="262.2" r="0.6" fill="#443c60" opacity="0.8"/>
<ellipse cx="141.2" cy="212.2" rx="1.2" ry="0.75" fill="#3a3252" opacity="0.85" transform="rotate(23 141.2 212.2)"/>
<text x="62.8" y="174.94" font-size="7.6" text-anchor="middle" fill="#111" stroke="#111" stroke-width="0.2">Isotype</text>
<text x="135.2" y="175.94" font-size="7.9" text-anchor="middle" fill="#111" stroke="#111" stroke-width="0.2">mAb81. 2</text>
<text x="164" y="158.96" font-size="11.2" text-anchor="start" fill="#000" font-weight="bold" >F</text>
<line x1="205.8" y1="170" x2="205.8" y2="249.3" stroke="#1a1a1a" stroke-width="1.3" />
<line x1="202.4" y1="172.8" x2="205.8" y2="172.8" stroke="#1a1a1a" stroke-width="1.3" />
<text x="199.9" y="174.95" font-size="8.2" text-anchor="end" fill="#1a1a1a" >1.2</text>
<line x1="202.4" y1="185.45" x2="205.8" y2="185.45" stroke="#1a1a1a" stroke-width="1.3" />
<text x="199.9" y="187.6" font-size="8.2" text-anchor="end" fill="#1a1a1a" >1.0</text>
<line x1="202.4" y1="198.1" x2="205.8" y2="198.1" stroke="#1a1a1a" stroke-width="1.3" />
<text x="199.9" y="200.25" font-size="8.2" text-anchor="end" fill="#1a1a1a" >0.8</text>
<line x1="202.4" y1="210.75" x2="205.8" y2="210.75" stroke="#1a1a1a" stroke-width="1.3" />
<text x="199.9" y="212.9" font-size="8.2" text-anchor="end" fill="#1a1a1a" >0.6</text>
<line x1="202.4" y1="223.4" x2="205.8" y2="223.4" stroke="#1a1a1a" stroke-width="1.3" />
<text x="199.9" y="225.55" font-size="8.2" text-anchor="end" fill="#1a1a1a" >0.4</text>
<line x1="202.4" y1="236.05" x2="205.8" y2="236.05" stroke="#1a1a1a" stroke-width="1.3" />
<text x="199.9" y="238.2" font-size="8.2" text-anchor="end" fill="#1a1a1a" >0.2</text>
<line x1="202.4" y1="248.7" x2="205.8" y2="248.7" stroke="#1a1a1a" stroke-width="1.3" />
<text x="199.9" y="250.85" font-size="8.2" text-anchor="end" fill="#1a1a1a" >0.0</text>
<rect x="211.2" y="185.45" width="20.4" height="63.25" fill="#000"/>
<rect x="242.0" y="240.7" width="21.4" height="8" fill="#a80a34"/>
<line x1="202.8" y1="248.7" x2="268.5" y2="248.7" stroke="#1a1a1a" stroke-width="1.3" />
<line x1="221.5" y1="248.7" x2="221.5" y2="251.7" stroke="#1a1a1a" stroke-width="1.3" />
<line x1="252.7" y1="248.7" x2="252.7" y2="251.7" stroke="#1a1a1a" stroke-width="1.3" />
<text transform="translate(171.46,211.5) rotate(-90)" font-size="8.5" text-anchor="middle" fill="#1a1a1a" ><tspan font-style="italic">BCR/ABL1</tspan> expression</text>
<text transform="translate(184.06,210.3) rotate(-90)" font-size="8.5" text-anchor="middle" fill="#1a1a1a" >relative to median isotype</text>
<text transform="translate(224,257.6) rotate(-45)" font-size="8.2" text-anchor="end" fill="#1a1a1a">Isotype</text>
<text transform="translate(254.6,257.6) rotate(-45)" font-size="8.2" text-anchor="end" fill="#1a1a1a">mAb81.2</text>
<text x="271.8" y="159.36" font-size="11.2" text-anchor="start" fill="#000" font-weight="bold" >G</text>
<line x1="300.8" y1="170" x2="300.8" y2="249.3" stroke="#1a1a1a" stroke-width="1.3" />
<line x1="297.4" y1="172.8" x2="300.8" y2="172.8" stroke="#1a1a1a" stroke-width="1.3" />
<text x="294.9" y="174.95" font-size="8.2" text-anchor="end" fill="#1a1a1a" >100</text>
<line x1="297.4" y1="187.98" x2="300.8" y2="187.98" stroke="#1a1a1a" stroke-width="1.3" />
<text x="294.9" y="190.13" font-size="8.2" text-anchor="end" fill="#1a1a1a" >80</text>
<line x1="297.4" y1="203.16" x2="300.8" y2="203.16" stroke="#1a1a1a" stroke-width="1.3" />
<text x="294.9" y="205.31" font-size="8.2" text-anchor="end" fill="#1a1a1a" >60</text>
<line x1="297.4" y1="218.34" x2="300.8" y2="218.34" stroke="#1a1a1a" stroke-width="1.3" />
<text x="294.9" y="220.49" font-size="8.2" text-anchor="end" fill="#1a1a1a" >40</text>
<line x1="297.4" y1="233.52" x2="300.8" y2="233.52" stroke="#1a1a1a" stroke-width="1.3" />
<text x="294.9" y="235.67" font-size="8.2" text-anchor="end" fill="#1a1a1a" >20</text>
<line x1="297.4" y1="248.7" x2="300.8" y2="248.7" stroke="#1a1a1a" stroke-width="1.3" />
<text x="294.9" y="250.85" font-size="8.2" text-anchor="end" fill="#1a1a1a" >0</text>
<line x1="314.4" y1="190.26" x2="314.4" y2="200.12" stroke="#1a1a1a" stroke-width="1.3" />
<line x1="310" y1="190.26" x2="318.8" y2="190.26" stroke="#1a1a1a" stroke-width="1.3" />
<line x1="342.3" y1="234.66" x2="342.3" y2="238.07" stroke="#1a1a1a" stroke-width="1.3" />
<line x1="337.8" y1="234.66" x2="346.8" y2="234.66" stroke="#1a1a1a" stroke-width="1.3" />
<rect x="305.4" y="200.12" width="18.3" height="48.58" fill="#000"/>
<rect x="333.4" y="237.77" width="18.2" height="10.93" fill="#a80a34"/>
<line x1="297.8" y1="248.7" x2="355.5" y2="248.7" stroke="#1a1a1a" stroke-width="1.3" />
<line x1="314.5" y1="248.7" x2="314.5" y2="251.7" stroke="#1a1a1a" stroke-width="1.3" />
<line x1="342.5" y1="248.7" x2="342.5" y2="251.7" stroke="#1a1a1a" stroke-width="1.3" />
<text transform="translate(278.87,210.5) rotate(-90)" font-size="8.8" text-anchor="middle" fill="#1a1a1a" >WBC 10^9/L</text>
<text x="311.8" y="178.46" font-size="7.4" text-anchor="start" fill="#1a1a1a" >p=0.0033</text>
<line x1="314.4" y1="182.9" x2="341.4" y2="182.9" stroke="#1a1a1a" stroke-width="1.2" />
<line x1="314.4" y1="181.3" x2="314.4" y2="184.5" stroke="#1a1a1a" stroke-width="1.2" />
<line x1="341.4" y1="181.3" x2="341.4" y2="184.5" stroke="#1a1a1a" stroke-width="1.2" />
<text transform="translate(319.3,258.4) rotate(-45)" font-size="8.2" text-anchor="end" fill="#1a1a1a">Isotype</text>
<text transform="translate(347,258.4) rotate(-45)" font-size="8.2" text-anchor="end" fill="#1a1a1a">mAb81.2</text>
<text x="364" y="159.76" font-size="11.2" text-anchor="start" fill="#000" font-weight="bold" >H</text>
<line x1="392" y1="172.7" x2="392" y2="249.6" stroke="#1a1a1a" stroke-width="1.3" />
<line x1="389" y1="179.7" x2="392" y2="179.7" stroke="#1a1a1a" stroke-width="1.3" />
<text x="386.9" y="181.85" font-size="8.2" text-anchor="end" fill="#1a1a1a" >100</text>
<line x1="389" y1="214.35" x2="392" y2="214.35" stroke="#1a1a1a" stroke-width="1.3" />
<text x="386.9" y="216.5" font-size="8.2" text-anchor="end" fill="#1a1a1a" >50</text>
<line x1="389" y1="249" x2="392" y2="249" stroke="#1a1a1a" stroke-width="1.3" />
<text x="386.9" y="251.15" font-size="8.2" text-anchor="end" fill="#1a1a1a" >0</text>
<line x1="389.3" y1="249" x2="509.8" y2="249" stroke="#1a1a1a" stroke-width="1.3" />
<line x1="392" y1="249" x2="392" y2="252" stroke="#1a1a1a" stroke-width="1.3" />
<text x="392" y="260.85" font-size="8.2" text-anchor="middle" fill="#1a1a1a" >0</text>
<line x1="415" y1="249" x2="415" y2="252" stroke="#1a1a1a" stroke-width="1.3" />
<text x="415" y="260.85" font-size="8.2" text-anchor="middle" fill="#1a1a1a" >20</text>
<line x1="438" y1="249" x2="438" y2="252" stroke="#1a1a1a" stroke-width="1.3" />
<text x="438" y="260.85" font-size="8.2" text-anchor="middle" fill="#1a1a1a" >40</text>
<line x1="461" y1="249" x2="461" y2="252" stroke="#1a1a1a" stroke-width="1.3" />
<text x="461" y="260.85" font-size="8.2" text-anchor="middle" fill="#1a1a1a" >60</text>
<line x1="484" y1="249" x2="484" y2="252" stroke="#1a1a1a" stroke-width="1.3" />
<text x="484" y="260.85" font-size="8.2" text-anchor="middle" fill="#1a1a1a" >80</text>
<line x1="507" y1="249" x2="507" y2="252" stroke="#1a1a1a" stroke-width="1.3" />
<text x="507" y="260.85" font-size="8.2" text-anchor="middle" fill="#1a1a1a" >100</text>
<text transform="translate(370.78,209.7) rotate(-90)" font-size="9.1" text-anchor="middle" fill="#1a1a1a" >% survival</text>
<text x="397.8" y="191.36" font-size="7.4" text-anchor="start" fill="#1a1a1a" >p=0.0020</text>
<path d="M461.9 179.7 L480.3 179.7 L480.3 199.52 L482.4 199.52 L482.4 209.43 L485 209.43 L485 219.27 L492 219.27 L492 229.18 L494.6 229.18 L494.6 249" fill="none" stroke="#98163a" stroke-width="1.4"/>
<path d="M392.2 179.7 L461.9 179.7 L461.9 189.61 L464 189.61 L464 209.43 L469.7 209.43 L469.7 229.18 L475.6 229.18 L475.6 239.09 L482.4 239.09 L482.4 249" fill="none" stroke="#000" stroke-width="1.4"/>
<line x1="400.6" y1="232.1" x2="408.9" y2="232.1" stroke="#000" stroke-width="1.5" />
<text x="411.4" y="234.84" font-size="7.6" text-anchor="start" fill="#1a1a1a" >Isotype</text>
<line x1="400.6" y1="240.2" x2="408.9" y2="240.2" stroke="#98163a" stroke-width="1.5" />
<text x="411.4" y="242.94" font-size="7.6" text-anchor="start" fill="#1a1a1a" >mAb81.2</text>
<text transform="translate(400.4,275.8) scale(0.74,1)" x="0" y="0" font-size="10.6" fill="#1a1a1a" stroke="#1a1a1a" stroke-width="0.15" textLength="132.2" lengthAdjust="spacing">Days after transplantation</text>
<text x="10" y="305.06" font-size="11.2" text-anchor="start" fill="#000" font-weight="bold" >I</text>
<line x1="38.9" y1="321.6" x2="38.9" y2="400.9" stroke="#1a1a1a" stroke-width="1.3" />
<line x1="35.5" y1="324.4" x2="38.9" y2="324.4" stroke="#1a1a1a" stroke-width="1.3" />
<text x="33" y="326.55" font-size="8.2" text-anchor="end" fill="#1a1a1a" >0.4</text>
<line x1="35.5" y1="343.38" x2="38.9" y2="343.38" stroke="#1a1a1a" stroke-width="1.3" />
<text x="33" y="345.53" font-size="8.2" text-anchor="end" fill="#1a1a1a" >0.3</text>
<line x1="35.5" y1="362.35" x2="38.9" y2="362.35" stroke="#1a1a1a" stroke-width="1.3" />
<text x="33" y="364.5" font-size="8.2" text-anchor="end" fill="#1a1a1a" >0.2</text>
<line x1="35.5" y1="381.32" x2="38.9" y2="381.32" stroke="#1a1a1a" stroke-width="1.3" />
<text x="33" y="383.48" font-size="8.2" text-anchor="end" fill="#1a1a1a" >0.1</text>
<line x1="35.5" y1="400.3" x2="38.9" y2="400.3" stroke="#1a1a1a" stroke-width="1.3" />
<text x="33" y="402.45" font-size="8.2" text-anchor="end" fill="#1a1a1a" >0.0</text>
<line x1="35.9" y1="400.3" x2="127.7" y2="400.3" stroke="#1a1a1a" stroke-width="1.3" />
<line x1="53.9" y1="400.3" x2="53.9" y2="403.3" stroke="#1a1a1a" stroke-width="1.3" />
<line x1="84.1" y1="400.3" x2="84.1" y2="403.3" stroke="#1a1a1a" stroke-width="1.3" />
<line x1="114.1" y1="400.3" x2="114.1" y2="403.3" stroke="#1a1a1a" stroke-width="1.3" />
<text transform="translate(13.88,363.1) rotate(-90)" font-size="8.55" text-anchor="middle" fill="#1a1a1a" >% leukemic cells in PB</text>
<text x="82.8" y="309.36" font-size="7.4" text-anchor="middle" fill="#1a1a1a" >n.s.</text>
<line x1="50.7" y1="313.7" x2="114.4" y2="313.7" stroke="#1a1a1a" stroke-width="1.2" />
<line x1="50.7" y1="312.1" x2="50.7" y2="315.3" stroke="#1a1a1a" stroke-width="1.2" />
<line x1="114.4" y1="312.1" x2="114.4" y2="315.3" stroke="#1a1a1a" stroke-width="1.2" />
<text x="47.3" y="324.86" font-size="7.4" text-anchor="start" fill="#1a1a1a" >p=0.0624</text>
<line x1="51.2" y1="328.8" x2="75.5" y2="328.8" stroke="#1a1a1a" stroke-width="1.2" />
<line x1="51.2" y1="327.2" x2="51.2" y2="330.4" stroke="#1a1a1a" stroke-width="1.2" />
<line x1="75.5" y1="327.2" x2="75.5" y2="330.4" stroke="#1a1a1a" stroke-width="1.2" />
<text x="85.8" y="324.86" font-size="7.4" text-anchor="start" fill="#1a1a1a" >p=0.0094</text>
<line x1="89.8" y1="328.8" x2="114.7" y2="328.8" stroke="#1a1a1a" stroke-width="1.2" />
<line x1="89.8" y1="327.2" x2="89.8" y2="330.4" stroke="#1a1a1a" stroke-width="1.2" />
<line x1="114.7" y1="327.2" x2="114.7" y2="330.4" stroke="#1a1a1a" stroke-width="1.2" />
<text transform="translate(57.5,411) rotate(-45)" font-size="8.2" text-anchor="end" fill="#1a1a1a">Isotype</text>
<text transform="translate(85.8,411) rotate(-45)" font-size="8.2" text-anchor="end" fill="#1a1a1a">mAb81.2</text>
<text transform="translate(121.5,411) rotate(-45)" font-size="8.2" text-anchor="end" fill="#1a1a1a">Fab81.2</text>
<circle cx="53.9" cy="341.8" r="1.75" fill="#fff" stroke="#111" stroke-width="1.15"/>
<circle cx="53.9" cy="363.9" r="1.75" fill="#fff" stroke="#111" stroke-width="1.15"/>
<circle cx="56.8" cy="370.7" r="1.75" fill="#fff" stroke="#111" stroke-width="1.15"/>
<circle cx="48.2" cy="375.9" r="1.75" fill="#fff" stroke="#111" stroke-width="1.15"/>
<circle cx="51.6" cy="381.6" r="1.75" fill="#fff" stroke="#111" stroke-width="1.15"/>
<circle cx="59.5" cy="383.9" r="1.75" fill="#fff" stroke="#111" stroke-width="1.15"/>
<circle cx="50.9" cy="391.1" r="1.75" fill="#fff" stroke="#111" stroke-width="1.15"/>
<circle cx="56.8" cy="390" r="1.75" fill="#fff" stroke="#111" stroke-width="1.15"/>
<line x1="43.9" y1="374.8" x2="63.9" y2="374.8" stroke="#1a1a1a" stroke-width="1.2" />
<line x1="53.9" y1="369.5" x2="53.9" y2="374.8" stroke="#1a1a1a" stroke-width="1.2" />
<line x1="49.3" y1="369.5" x2="58.5" y2="369.5" stroke="#1a1a1a" stroke-width="1.2" />
<line x1="53.9" y1="374.8" x2="53.9" y2="380.5" stroke="#1a1a1a" stroke-width="1.2" />
<line x1="49.3" y1="380.5" x2="58.5" y2="380.5" stroke="#1a1a1a" stroke-width="1.2" />
<circle cx="75.5" cy="384.8" r="1.9" fill="#8c1438"/>
<circle cx="89.5" cy="384.8" r="1.9" fill="#8c1438"/>
<circle cx="83.9" cy="388.2" r="1.9" fill="#8c1438"/>
<circle cx="78.2" cy="390.5" r="1.9" fill="#8c1438"/>
<circle cx="90.9" cy="391.1" r="1.9" fill="#8c1438"/>
<circle cx="83.9" cy="395" r="1.9" fill="#8c1438"/>
<line x1="74.3" y1="388.9" x2="93.7" y2="388.9" stroke="#1a1a1a" stroke-width="1.2" />
<line x1="84" y1="386.3" x2="84" y2="388.9" stroke="#1a1a1a" stroke-width="1.2" />
<line x1="79.4" y1="386.3" x2="88.6" y2="386.3" stroke="#1a1a1a" stroke-width="1.2" />
<line x1="84" y1="388.9" x2="84" y2="391.3" stroke="#1a1a1a" stroke-width="1.2" />
<line x1="79.4" y1="391.3" x2="88.6" y2="391.3" stroke="#1a1a1a" stroke-width="1.2" />
<circle cx="110.7" cy="354.8" r="1.9" fill="#111"/>
<circle cx="116.4" cy="358.6" r="1.9" fill="#111"/>
<circle cx="114.1" cy="368.4" r="1.9" fill="#111"/>
<circle cx="114.5" cy="375.2" r="1.9" fill="#111"/>
<circle cx="116.8" cy="383.2" r="1.9" fill="#111"/>
<circle cx="110.7" cy="386.6" r="1.9" fill="#111"/>
<line x1="104.2" y1="371.1" x2="123.8" y2="371.1" stroke="#1a1a1a" stroke-width="1.2" />
<line x1="114" y1="366.1" x2="114" y2="371.1" stroke="#1a1a1a" stroke-width="1.2" />
<line x1="109.4" y1="366.1" x2="118.6" y2="366.1" stroke="#1a1a1a" stroke-width="1.2" />
<line x1="114" y1="371.1" x2="114" y2="375.9" stroke="#1a1a1a" stroke-width="1.2" />
<line x1="109.4" y1="375.9" x2="118.6" y2="375.9" stroke="#1a1a1a" stroke-width="1.2" />
<text x="135.3" y="305.06" font-size="11.2" text-anchor="start" fill="#000" font-weight="bold" >J</text>
<line x1="165.8" y1="321.6" x2="165.8" y2="400.9" stroke="#1a1a1a" stroke-width="1.3" />
<line x1="162.4" y1="324.4" x2="165.8" y2="324.4" stroke="#1a1a1a" stroke-width="1.3" />
<text x="159.9" y="326.55" font-size="8.2" text-anchor="end" fill="#1a1a1a" >100</text>
<line x1="162.4" y1="339.58" x2="165.8" y2="339.58" stroke="#1a1a1a" stroke-width="1.3" />
<text x="159.9" y="341.73" font-size="8.2" text-anchor="end" fill="#1a1a1a" >80</text>
<line x1="162.4" y1="354.76" x2="165.8" y2="354.76" stroke="#1a1a1a" stroke-width="1.3" />
<text x="159.9" y="356.91" font-size="8.2" text-anchor="end" fill="#1a1a1a" >60</text>
<line x1="162.4" y1="369.94" x2="165.8" y2="369.94" stroke="#1a1a1a" stroke-width="1.3" />
<text x="159.9" y="372.09" font-size="8.2" text-anchor="end" fill="#1a1a1a" >40</text>
<line x1="162.4" y1="385.12" x2="165.8" y2="385.12" stroke="#1a1a1a" stroke-width="1.3" />
<text x="159.9" y="387.27" font-size="8.2" text-anchor="end" fill="#1a1a1a" >20</text>
<line x1="162.4" y1="400.3" x2="165.8" y2="400.3" stroke="#1a1a1a" stroke-width="1.3" />
<text x="159.9" y="402.45" font-size="8.2" text-anchor="end" fill="#1a1a1a" >0</text>
<line x1="162.8" y1="400.3" x2="252.7" y2="400.3" stroke="#1a1a1a" stroke-width="1.3" />
<line x1="180.5" y1="400.3" x2="180.5" y2="403.3" stroke="#1a1a1a" stroke-width="1.3" />
<line x1="210.1" y1="400.3" x2="210.1" y2="403.3" stroke="#1a1a1a" stroke-width="1.3" />
<line x1="240.2" y1="400.3" x2="240.2" y2="403.3" stroke="#1a1a1a" stroke-width="1.3" />
<text transform="translate(143.1,363.75) rotate(-90)" font-size="8.6" text-anchor="middle" fill="#1a1a1a" >% leukemic cells in BM</text>
<text x="208.8" y="309.36" font-size="7.4" text-anchor="middle" fill="#1a1a1a" >n.s.</text>
<line x1="177.3" y1="313.7" x2="240.8" y2="313.7" stroke="#1a1a1a" stroke-width="1.2" />
<line x1="177.3" y1="312.1" x2="177.3" y2="315.3" stroke="#1a1a1a" stroke-width="1.2" />
<line x1="240.8" y1="312.1" x2="240.8" y2="315.3" stroke="#1a1a1a" stroke-width="1.2" />
<text x="175" y="324.36" font-size="7.4" text-anchor="start" fill="#1a1a1a" >p&lt;0.0001</text>
<line x1="177.7" y1="328.3" x2="201.9" y2="328.3" stroke="#1a1a1a" stroke-width="1.2" />
<line x1="177.7" y1="326.7" x2="177.7" y2="329.9" stroke="#1a1a1a" stroke-width="1.2" />
<line x1="201.9" y1="326.7" x2="201.9" y2="329.9" stroke="#1a1a1a" stroke-width="1.2" />
<text x="212.9" y="324.36" font-size="7.4" text-anchor="start" fill="#1a1a1a" >p&lt;0.0001</text>
<line x1="216.7" y1="328.3" x2="240.8" y2="328.3" stroke="#1a1a1a" stroke-width="1.2" />
<line x1="216.7" y1="326.7" x2="216.7" y2="329.9" stroke="#1a1a1a" stroke-width="1.2" />
<line x1="240.8" y1="326.7" x2="240.8" y2="329.9" stroke="#1a1a1a" stroke-width="1.2" />
<text transform="translate(186,411) rotate(-45)" font-size="8.2" text-anchor="end" fill="#1a1a1a">Isotype</text>
<text transform="translate(216.6,411) rotate(-45)" font-size="8.2" text-anchor="end" fill="#1a1a1a">mAb81.2</text>
<text transform="translate(246.7,411) rotate(-45)" font-size="8.2" text-anchor="end" fill="#1a1a1a">Fab81.2</text>
<circle cx="183.4" cy="342.5" r="1.75" fill="#fff" stroke="#111" stroke-width="1.15"/>
<circle cx="177.3" cy="345.2" r="1.75" fill="#fff" stroke="#111" stroke-width="1.15"/>
<circle cx="173.2" cy="348.6" r="1.75" fill="#fff" stroke="#111" stroke-width="1.15"/>
<circle cx="177.7" cy="348.6" r="1.75" fill="#fff" stroke="#111" stroke-width="1.15"/>
<circle cx="182.7" cy="349.1" r="1.75" fill="#fff" stroke="#111" stroke-width="1.15"/>
<circle cx="187.5" cy="348.6" r="1.75" fill="#fff" stroke="#111" stroke-width="1.15"/>
<circle cx="180.5" cy="369.5" r="1.75" fill="#fff" stroke="#111" stroke-width="1.15"/>
<line x1="170.8" y1="350.5" x2="190.2" y2="350.5" stroke="#1a1a1a" stroke-width="1.2" />
<line x1="180.5" y1="347.8" x2="180.5" y2="350.5" stroke="#1a1a1a" stroke-width="1.2" />
<line x1="175.9" y1="347.8" x2="185.1" y2="347.8" stroke="#1a1a1a" stroke-width="1.2" />
<line x1="180.5" y1="350.5" x2="180.5" y2="353.2" stroke="#1a1a1a" stroke-width="1.2" />
<line x1="175.9" y1="353.2" x2="185.1" y2="353.2" stroke="#1a1a1a" stroke-width="1.2" />
<circle cx="206.7" cy="386.4" r="1.9" fill="#8c1438"/>
<circle cx="213" cy="385.2" r="1.9" fill="#8c1438"/>
<circle cx="215" cy="386.7" r="1.9" fill="#8c1438"/>
<circle cx="209" cy="391.3" r="1.9" fill="#8c1438"/>
<circle cx="211.6" cy="391" r="1.9" fill="#8c1438"/>
<circle cx="205.2" cy="389" r="1.9" fill="#8c1438"/>
<line x1="200.3" y1="388.4" x2="220.3" y2="388.4" stroke="#1a1a1a" stroke-width="1.2" />
<circle cx="232.7" cy="340.7" r="1.9" fill="#111"/>
<circle cx="238" cy="343" r="1.9" fill="#111"/>
<circle cx="242.5" cy="345" r="1.9" fill="#111"/>
<circle cx="247.7" cy="343.4" r="1.9" fill="#111"/>
<circle cx="242" cy="346.4" r="1.9" fill="#111"/>
<circle cx="237.3" cy="352" r="1.9" fill="#111"/>
<line x1="230.3" y1="345.2" x2="249.7" y2="345.2" stroke="#1a1a1a" stroke-width="1.2" />
<line x1="240" y1="343.2" x2="240" y2="345.2" stroke="#1a1a1a" stroke-width="1.2" />
<line x1="235.4" y1="343.2" x2="244.6" y2="343.2" stroke="#1a1a1a" stroke-width="1.2" />
<line x1="240" y1="345.2" x2="240" y2="347.3" stroke="#1a1a1a" stroke-width="1.2" />
<line x1="235.4" y1="347.3" x2="244.6" y2="347.3" stroke="#1a1a1a" stroke-width="1.2" />
<text x="263.7" y="305.06" font-size="11.2" text-anchor="start" fill="#000" font-weight="bold" >K</text>
<line x1="291.9" y1="321.6" x2="291.9" y2="400.9" stroke="#1a1a1a" stroke-width="1.3" />
<line x1="288.5" y1="324.4" x2="291.9" y2="324.4" stroke="#1a1a1a" stroke-width="1.3" />
<text x="286" y="326.55" font-size="8.2" text-anchor="end" fill="#1a1a1a" >25</text>
<line x1="288.5" y1="339.58" x2="291.9" y2="339.58" stroke="#1a1a1a" stroke-width="1.3" />
<text x="286" y="341.73" font-size="8.2" text-anchor="end" fill="#1a1a1a" >20</text>
<line x1="288.5" y1="354.76" x2="291.9" y2="354.76" stroke="#1a1a1a" stroke-width="1.3" />
<text x="286" y="356.91" font-size="8.2" text-anchor="end" fill="#1a1a1a" >15</text>
<line x1="288.5" y1="369.94" x2="291.9" y2="369.94" stroke="#1a1a1a" stroke-width="1.3" />
<text x="286" y="372.09" font-size="8.2" text-anchor="end" fill="#1a1a1a" >10</text>
<line x1="288.5" y1="385.12" x2="291.9" y2="385.12" stroke="#1a1a1a" stroke-width="1.3" />
<text x="286" y="387.27" font-size="8.2" text-anchor="end" fill="#1a1a1a" >5</text>
<line x1="288.5" y1="400.3" x2="291.9" y2="400.3" stroke="#1a1a1a" stroke-width="1.3" />
<text x="286" y="402.45" font-size="8.2" text-anchor="end" fill="#1a1a1a" >0</text>
<line x1="288.9" y1="400.3" x2="379.3" y2="400.3" stroke="#1a1a1a" stroke-width="1.3" />
<line x1="307" y1="400.3" x2="307" y2="403.3" stroke="#1a1a1a" stroke-width="1.3" />
<line x1="336.8" y1="400.3" x2="336.8" y2="403.3" stroke="#1a1a1a" stroke-width="1.3" />
<line x1="366.4" y1="400.3" x2="366.4" y2="403.3" stroke="#1a1a1a" stroke-width="1.3" />
<text transform="translate(270.05,363.1) rotate(-90)" font-size="8.46" text-anchor="middle" fill="#1a1a1a" >% leukemic cells in spleen</text>
<text x="335.2" y="309.36" font-size="7.4" text-anchor="middle" fill="#1a1a1a" >n.s.</text>
<line x1="303.7" y1="313.7" x2="367.3" y2="313.7" stroke="#1a1a1a" stroke-width="1.2" />
<line x1="303.7" y1="312.1" x2="303.7" y2="315.3" stroke="#1a1a1a" stroke-width="1.2" />
<line x1="367.3" y1="312.1" x2="367.3" y2="315.3" stroke="#1a1a1a" stroke-width="1.2" />
<text x="300" y="325.06" font-size="7.4" text-anchor="start" fill="#1a1a1a" >p=0.0009</text>
<line x1="304.2" y1="329" x2="327.7" y2="329" stroke="#1a1a1a" stroke-width="1.2" />
<line x1="304.2" y1="327.4" x2="304.2" y2="330.6" stroke="#1a1a1a" stroke-width="1.2" />
<line x1="327.7" y1="327.4" x2="327.7" y2="330.6" stroke="#1a1a1a" stroke-width="1.2" />
<text x="338.8" y="325.06" font-size="7.4" text-anchor="start" fill="#1a1a1a" >p=0.0003</text>
<line x1="342.7" y1="329" x2="367.3" y2="329" stroke="#1a1a1a" stroke-width="1.2" />
<line x1="342.7" y1="327.4" x2="342.7" y2="330.6" stroke="#1a1a1a" stroke-width="1.2" />
<line x1="367.3" y1="327.4" x2="367.3" y2="330.6" stroke="#1a1a1a" stroke-width="1.2" />
<text transform="translate(311.6,411) rotate(-45)" font-size="8.2" text-anchor="end" fill="#1a1a1a">Isotype</text>
<text transform="translate(343.3,411) rotate(-45)" font-size="8.2" text-anchor="end" fill="#1a1a1a">mAb81.2</text>
<text transform="translate(372.8,411) rotate(-45)" font-size="8.2" text-anchor="end" fill="#1a1a1a">Fab81.2</text>
<circle cx="306.6" cy="343.4" r="1.75" fill="#fff" stroke="#111" stroke-width="1.15"/>
<circle cx="300.9" cy="363.9" r="1.75" fill="#fff" stroke="#111" stroke-width="1.15"/>
<circle cx="312.3" cy="366.4" r="1.75" fill="#fff" stroke="#111" stroke-width="1.15"/>
<circle cx="306.6" cy="369.1" r="1.75" fill="#fff" stroke="#111" stroke-width="1.15"/>
<circle cx="303.9" cy="374.8" r="1.75" fill="#fff" stroke="#111" stroke-width="1.15"/>
<circle cx="309.5" cy="377" r="1.75" fill="#fff" stroke="#111" stroke-width="1.15"/>
<circle cx="303.9" cy="388.4" r="1.75" fill="#fff" stroke="#111" stroke-width="1.15"/>
<circle cx="309.5" cy="388.4" r="1.75" fill="#fff" stroke="#111" stroke-width="1.15"/>
<line x1="296.8" y1="370.9" x2="316.8" y2="370.9" stroke="#1a1a1a" stroke-width="1.2" />
<line x1="306.8" y1="366.8" x2="306.8" y2="370.9" stroke="#1a1a1a" stroke-width="1.2" />
<line x1="302.2" y1="366.8" x2="311.4" y2="366.8" stroke="#1a1a1a" stroke-width="1.2" />
<line x1="306.8" y1="370.9" x2="306.8" y2="374.8" stroke="#1a1a1a" stroke-width="1.2" />
<line x1="302.2" y1="374.8" x2="311.4" y2="374.8" stroke="#1a1a1a" stroke-width="1.2" />
<circle cx="331.6" cy="397.2" r="1.95" fill="#8c1438"/>
<circle cx="334.6" cy="397.6" r="1.95" fill="#8c1438"/>
<circle cx="337.6" cy="397.8" r="1.95" fill="#8c1438"/>
<circle cx="340.4" cy="397.2" r="1.95" fill="#8c1438"/>
<circle cx="342.6" cy="397.5" r="1.95" fill="#8c1438"/>
<line x1="327" y1="397.3" x2="346.4" y2="397.3" stroke="#1a1a1a" stroke-width="1.2" />
<circle cx="366.8" cy="335.7" r="1.9" fill="#111"/>
<circle cx="361.1" cy="364.1" r="1.9" fill="#111"/>
<circle cx="366.8" cy="364.1" r="1.9" fill="#111"/>
<circle cx="372.5" cy="365.2" r="1.9" fill="#111"/>
<circle cx="366.4" cy="371.4" r="1.9" fill="#111"/>
<circle cx="366.4" cy="380" r="1.9" fill="#111"/>
<line x1="356" y1="363.9" x2="376.4" y2="363.9" stroke="#1a1a1a" stroke-width="1.2" />
<line x1="366.2" y1="357.7" x2="366.2" y2="363.9" stroke="#1a1a1a" stroke-width="1.2" />
<line x1="361.4" y1="357.7" x2="371" y2="357.7" stroke="#1a1a1a" stroke-width="1.2" />
<line x1="366.2" y1="363.9" x2="366.2" y2="370.2" stroke="#1a1a1a" stroke-width="1.2" />
<line x1="361.4" y1="370.2" x2="371" y2="370.2" stroke="#1a1a1a" stroke-width="1.2" />
<text x="390.1" y="305.06" font-size="11.2" text-anchor="start" fill="#000" font-weight="bold" >L</text>
<line x1="423.1" y1="321.6" x2="423.1" y2="401" stroke="#1a1a1a" stroke-width="1.3" />
<line x1="419.7" y1="324.4" x2="423.1" y2="324.4" stroke="#1a1a1a" stroke-width="1.3" />
<text x="417.2" y="326.55" font-size="8.2" text-anchor="end" fill="#1a1a1a" >200</text>
<line x1="419.7" y1="343.4" x2="423.1" y2="343.4" stroke="#1a1a1a" stroke-width="1.3" />
<text x="417.2" y="345.55" font-size="8.2" text-anchor="end" fill="#1a1a1a" >150</text>
<line x1="419.7" y1="362.4" x2="423.1" y2="362.4" stroke="#1a1a1a" stroke-width="1.3" />
<text x="417.2" y="364.55" font-size="8.2" text-anchor="end" fill="#1a1a1a" >100</text>
<line x1="419.7" y1="381.4" x2="423.1" y2="381.4" stroke="#1a1a1a" stroke-width="1.3" />
<text x="417.2" y="383.55" font-size="8.2" text-anchor="end" fill="#1a1a1a" >50</text>
<line x1="419.7" y1="400.4" x2="423.1" y2="400.4" stroke="#1a1a1a" stroke-width="1.3" />
<text x="417.2" y="402.55" font-size="8.2" text-anchor="end" fill="#1a1a1a" >0</text>
<line x1="420.1" y1="400.4" x2="508.2" y2="400.4" stroke="#1a1a1a" stroke-width="1.3" />
<line x1="437.7" y1="400.4" x2="437.7" y2="403.4" stroke="#1a1a1a" stroke-width="1.3" />
<line x1="467.7" y1="400.4" x2="467.7" y2="403.4" stroke="#1a1a1a" stroke-width="1.3" />
<line x1="498" y1="400.4" x2="498" y2="403.4" stroke="#1a1a1a" stroke-width="1.3" />
<text transform="translate(396.9,361) rotate(-90)" font-size="8.9" text-anchor="middle" fill="#1a1a1a" >Spleen weight (mg)</text>
<text x="466.3" y="309.36" font-size="7.4" text-anchor="middle" fill="#1a1a1a" >n.s.</text>
<line x1="434.2" y1="313.7" x2="498.7" y2="313.7" stroke="#1a1a1a" stroke-width="1.2" />
<line x1="434.2" y1="312.1" x2="434.2" y2="315.3" stroke="#1a1a1a" stroke-width="1.2" />
<line x1="498.7" y1="312.1" x2="498.7" y2="315.3" stroke="#1a1a1a" stroke-width="1.2" />
<text x="430.8" y="325.66" font-size="7.4" text-anchor="start" fill="#1a1a1a" >p=0.0002</text>
<line x1="435.2" y1="329.6" x2="459.6" y2="329.6" stroke="#1a1a1a" stroke-width="1.2" />
<line x1="435.2" y1="328" x2="435.2" y2="331.2" stroke="#1a1a1a" stroke-width="1.2" />
<line x1="459.6" y1="328" x2="459.6" y2="331.2" stroke="#1a1a1a" stroke-width="1.2" />
<text x="470.2" y="325.66" font-size="7.4" text-anchor="start" fill="#1a1a1a" >p=0.0001</text>
<line x1="473.7" y1="329.6" x2="498.7" y2="329.6" stroke="#1a1a1a" stroke-width="1.2" />
<line x1="473.7" y1="328" x2="473.7" y2="331.2" stroke="#1a1a1a" stroke-width="1.2" />
<line x1="498.7" y1="328" x2="498.7" y2="331.2" stroke="#1a1a1a" stroke-width="1.2" />
<text transform="translate(442.2,411) rotate(-45)" font-size="8.2" text-anchor="end" fill="#1a1a1a">Isotype</text>
<text transform="translate(471.3,411) rotate(-45)" font-size="8.2" text-anchor="end" fill="#1a1a1a">mAb81.2</text>
<text transform="translate(504.5,411) rotate(-45)" font-size="8.2" text-anchor="end" fill="#1a1a1a">Fab81.2</text>
<circle cx="437.7" cy="341.4" r="1.75" fill="#fff" stroke="#111" stroke-width="1.15"/>
<circle cx="435.5" cy="352" r="1.75" fill="#fff" stroke="#111" stroke-width="1.15"/>
<circle cx="441.1" cy="352" r="1.75" fill="#fff" stroke="#111" stroke-width="1.15"/>
<circle cx="431.4" cy="360.5" r="1.75" fill="#fff" stroke="#111" stroke-width="1.15"/>
<circle cx="438.2" cy="359.5" r="1.75" fill="#fff" stroke="#111" stroke-width="1.15"/>
<circle cx="443" cy="361.8" r="1.75" fill="#fff" stroke="#111" stroke-width="1.15"/>
<circle cx="440" cy="365" r="1.75" fill="#fff" stroke="#111" stroke-width="1.15"/>
<circle cx="435" cy="369.1" r="1.75" fill="#fff" stroke="#111" stroke-width="1.15"/>
<line x1="427.5" y1="357.7" x2="447.9" y2="357.7" stroke="#1a1a1a" stroke-width="1.2" />
<line x1="437.7" y1="355.3" x2="437.7" y2="357.7" stroke="#1a1a1a" stroke-width="1.2" />
<line x1="432.9" y1="355.3" x2="442.5" y2="355.3" stroke="#1a1a1a" stroke-width="1.2" />
<line x1="437.7" y1="357.7" x2="437.7" y2="360.1" stroke="#1a1a1a" stroke-width="1.2" />
<line x1="432.9" y1="360.1" x2="442.5" y2="360.1" stroke="#1a1a1a" stroke-width="1.2" />
<circle cx="463.5" cy="377.6" r="1.9" fill="#8c1438"/>
<circle cx="466.5" cy="378.6" r="1.9" fill="#8c1438"/>
<circle cx="470" cy="377" r="1.9" fill="#8c1438"/>
<circle cx="472.5" cy="376.5" r="1.9" fill="#8c1438"/>
<circle cx="468" cy="379.2" r="1.9" fill="#8c1438"/>
<line x1="459.2" y1="377.5" x2="478.2" y2="377.5" stroke="#1a1a1a" stroke-width="1.2" />
<circle cx="498" cy="345.2" r="1.9" fill="#111"/>
<circle cx="492.3" cy="361.1" r="1.9" fill="#111"/>
<circle cx="502.5" cy="361" r="1.9" fill="#111"/>
<circle cx="494.5" cy="360" r="1.9" fill="#111"/>
<circle cx="498" cy="366.4" r="1.9" fill="#111"/>
<circle cx="503.6" cy="362.7" r="1.9" fill="#111"/>
<line x1="487.8" y1="358.9" x2="508.2" y2="358.9" stroke="#1a1a1a" stroke-width="1.2" />
<line x1="498" y1="355.9" x2="498" y2="358.9" stroke="#1a1a1a" stroke-width="1.2" />
<line x1="493.2" y1="355.9" x2="502.8" y2="355.9" stroke="#1a1a1a" stroke-width="1.2" />
<line x1="498" y1="358.9" x2="498" y2="362" stroke="#1a1a1a" stroke-width="1.2" />
<line x1="493.2" y1="362" x2="502.8" y2="362" stroke="#1a1a1a" stroke-width="1.2" />
<rect x="0" y="0" width="520" height="1.0" fill="#000"/><rect x="0" y="0" width="1.4" height="440" fill="#000"/><rect x="518.3" y="0" width="1.7" height="440" fill="#000"/><rect x="0" y="438.6" width="520" height="1.4" fill="#000"/>
</svg>
</body></html>
